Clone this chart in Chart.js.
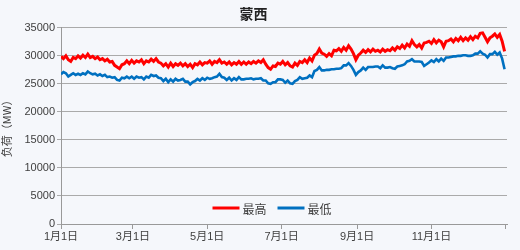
<!DOCTYPE html>
<html>
<head>
<meta charset="utf-8">
<script src="https://cdn.jsdelivr.net/npm/chart.js@4.4.0/dist/chart.umd.min.js"></script>
<style>
  html, body { margin: 0; padding: 0; background: #f5f7fb; }
  #wrap { width: 520px; height: 250px; }
</style>
</head>
<body>
<div id="wrap"><canvas id="c" width="520" height="250"></canvas></div>
<script>
// sampled every 2 days, starting 1月1日
const dayStep = 2;
const tickDays = [0, 59, 120, 181, 243, 304, 365];
const tickLabels = ['1月1日', '3月1日', '5月1日', '7月1日', '9月1日', '11月1日', ''];

const maxLoad = [
  29900, 29500, 30000, 29300, 29000, 29700, 29500, 30000, 29600, 30100,
  29700, 30300, 29700, 29900, 29500, 29800, 29300, 29500, 29100, 29400,
  28900, 29000, 28300, 28000, 27700, 28400, 28600, 29100, 28600, 29200,
  28700, 29100, 28900, 29300, 28600, 29100, 28900, 29400, 29000, 29500,
  28900, 28700, 28200, 28600, 28000, 28700, 28100, 28600, 28300, 28700,
  28200, 28600, 28100, 28500, 27900, 28600, 28400, 28900, 28400, 28800,
  28700, 29100, 28500, 29000, 28800, 29300, 28700, 28900, 28500, 28900,
  28400, 28800, 28500, 29000, 28500, 28900, 28500, 28900, 28600, 29000,
  28700, 29100, 28800, 29300, 28500, 27900, 27600, 28200, 28100, 28700,
  28500, 29000, 28400, 28800, 28200, 28000, 28700, 28300, 29000, 28800,
  29300, 28800, 29600, 29100, 30100, 30400, 31200, 30500, 30300, 29900,
  30400, 30000, 31000, 30900, 31300, 30800, 31500, 31000, 31800, 31200,
  30400, 29300, 30100, 30500, 31000, 30600, 31100, 30700, 31200, 30800,
  31000, 30700, 31200, 30800, 31100, 30900, 31400, 31000, 31600, 31300,
  31900, 31400, 32100, 31700, 32700, 32000, 31600, 32000, 31400, 32300,
  32400, 32600, 32200, 32900, 32300, 32800, 32500, 31600, 32600, 32700,
  33000, 32500, 33100, 32700, 33300, 32700, 33200, 32800, 33400, 32900,
  33500, 33200, 34000, 34100, 33300, 32500, 33200, 33500, 33900, 33300,
  33800, 32600, 30800
];

const minLoad = [
  26700, 27100, 26900, 26300, 26600, 26900, 26600, 26800, 26600, 26900,
  26700, 27200, 26900, 26700, 26800, 26500, 26700, 26400, 26600, 26200,
  26300, 26100, 26200, 25700, 25600, 26100, 26000, 26300, 26000, 26300,
  25900, 26300, 26100, 26200, 25800, 26300, 26100, 26600, 26400, 26500,
  26100, 26000, 25500, 25900, 25300, 25800, 25400, 25900, 25600, 25700,
  25900, 25400, 25400, 24900, 25300, 25500, 25900, 25600, 26000, 25700,
  26100, 25900, 26000, 26200, 26300, 26800, 26200, 26100, 25700, 26100,
  25600, 26000, 25700, 26200, 25800, 25800, 25900, 25900, 26000, 25800,
  25900, 25900, 26000, 25600, 25600, 25100, 25000, 25300, 25300, 25800,
  25800, 25700, 25200, 25600, 25100, 25000, 25500, 25700, 26200, 25900,
  26000, 26100, 26500, 26200, 27300, 27500, 28000, 27400, 27400, 27500,
  27500, 27600, 27600, 27700, 27700, 27800, 28300, 28300, 28700, 28200,
  27500, 26600, 27100, 27400, 27900, 27500, 28000, 28000, 28000, 28100,
  28100, 27800, 28300, 27900, 27900, 28000, 27800, 27700, 28100, 28200,
  28300, 28500, 29000, 29100, 29400, 29000, 29000, 29000, 28900, 28200,
  28500, 28800, 29200, 28900, 29400, 29000, 29500, 29100, 29700, 29700,
  29800, 29900, 29900, 30000, 30000, 30100, 30100, 30000, 30000, 30100,
  30400, 30400, 30800, 30400, 30200, 29700, 30300, 30300, 30700, 30200,
  30600, 29500, 27600
];

const toPoints = (arr) => arr.map((v, i) => ({ x: i * dayStep, y: v }));

const fontFamily = '"Liberation Sans", "Noto Sans CJK SC", sans-serif';

// legend drawn inside the plot area, near the bottom
const innerLegend = {
  id: 'innerLegend',
  afterDatasetsDraw(chart) {
    const { ctx, chartArea } = chart;
    const lineLen = 27, gap = 3, itemGap = 11;
    ctx.save();
    ctx.font = '12px "Noto Sans CJK SC", sans-serif';
    const items = chart.data.datasets.map(ds => ({
      label: ds.label, color: ds.borderColor, w: lineLen + gap + ctx.measureText(ds.label).width
    }));
    const total = items.reduce((s, it) => s + it.w, 0) + itemGap * (items.length - 1);
    let x = (chartArea.left + chartArea.right) / 2 - 12 - total / 2;
    const y = chartArea.bottom - 16;
    items.forEach(it => {
      ctx.strokeStyle = it.color;
      ctx.lineWidth = 3;
      ctx.beginPath();
      ctx.moveTo(x, y);
      ctx.lineTo(x + lineLen, y);
      ctx.stroke();
      ctx.fillStyle = '#404040';
      ctx.textBaseline = 'middle';
      ctx.fillText(it.label, x + lineLen + gap, y + 1);
      x += it.w + itemGap;
    });
    ctx.restore();
  }
};

new Chart(document.getElementById('c'), {
  type: 'line',
  data: {
    datasets: [
      { label: '最高', data: toPoints(maxLoad), borderColor: '#ff0000', borderWidth: 3 },
      { label: '最低', data: toPoints(minLoad), borderColor: '#0070c0', borderWidth: 2.6 }
    ]
  },
  options: {
    responsive: false,
    animation: false,
    layout: { padding: { left: 0, right: 13, top: 0, bottom: 0 } },
    elements: { point: { radius: 0 }, line: { tension: 0 } },
    plugins: {
      legend: { display: false },
      tooltip: { enabled: false },
      title: {
        display: true,
        text: '蒙西',
        color: '#222',
        font: { family: '"Noto Sans CJK SC", sans-serif', size: 14, weight: 'bold' },
        padding: { top: 5, bottom: 6 }
      }
    },
    scales: {
      x: {
        type: 'linear',
        min: 0,
        max: 366,
        afterBuildTicks: (axis) => { axis.ticks = tickDays.map(v => ({ value: v })); },
        afterFit: (scale) => { scale.height = 26; },
        ticks: {
          autoSkip: false,
          maxRotation: 0,
          padding: 1,
          color: '#404040',
          font: { family: fontFamily, size: 11 },
          callback: (v) => tickLabels[tickDays.indexOf(v)] ?? ''
        },
        grid: { drawOnChartArea: false, drawTicks: true, tickLength: 5, color: '#999' },
        border: { color: '#999' }
      },
      y: {
        min: 0,
        max: 35000,
        afterFit: (scale) => { scale.width = 61; },
        ticks: {
          stepSize: 5000,
          padding: 2,
          color: '#404040',
          font: { family: fontFamily, size: 11 },
          callback: (v) => String(v)
        },
        grid: { color: '#aaaaaa', tickLength: 4 },
        border: { color: '#999' },
        title: {
          display: true,
          text: '负荷（MW）',
          color: '#404040',
          padding: { top: 0, bottom: 0 },
          font: { family: '"Noto Sans CJK SC", sans-serif', size: 11 }
        }
      }
    }
  },
  plugins: [innerLegend]
});
</script>
</body>
</html>
